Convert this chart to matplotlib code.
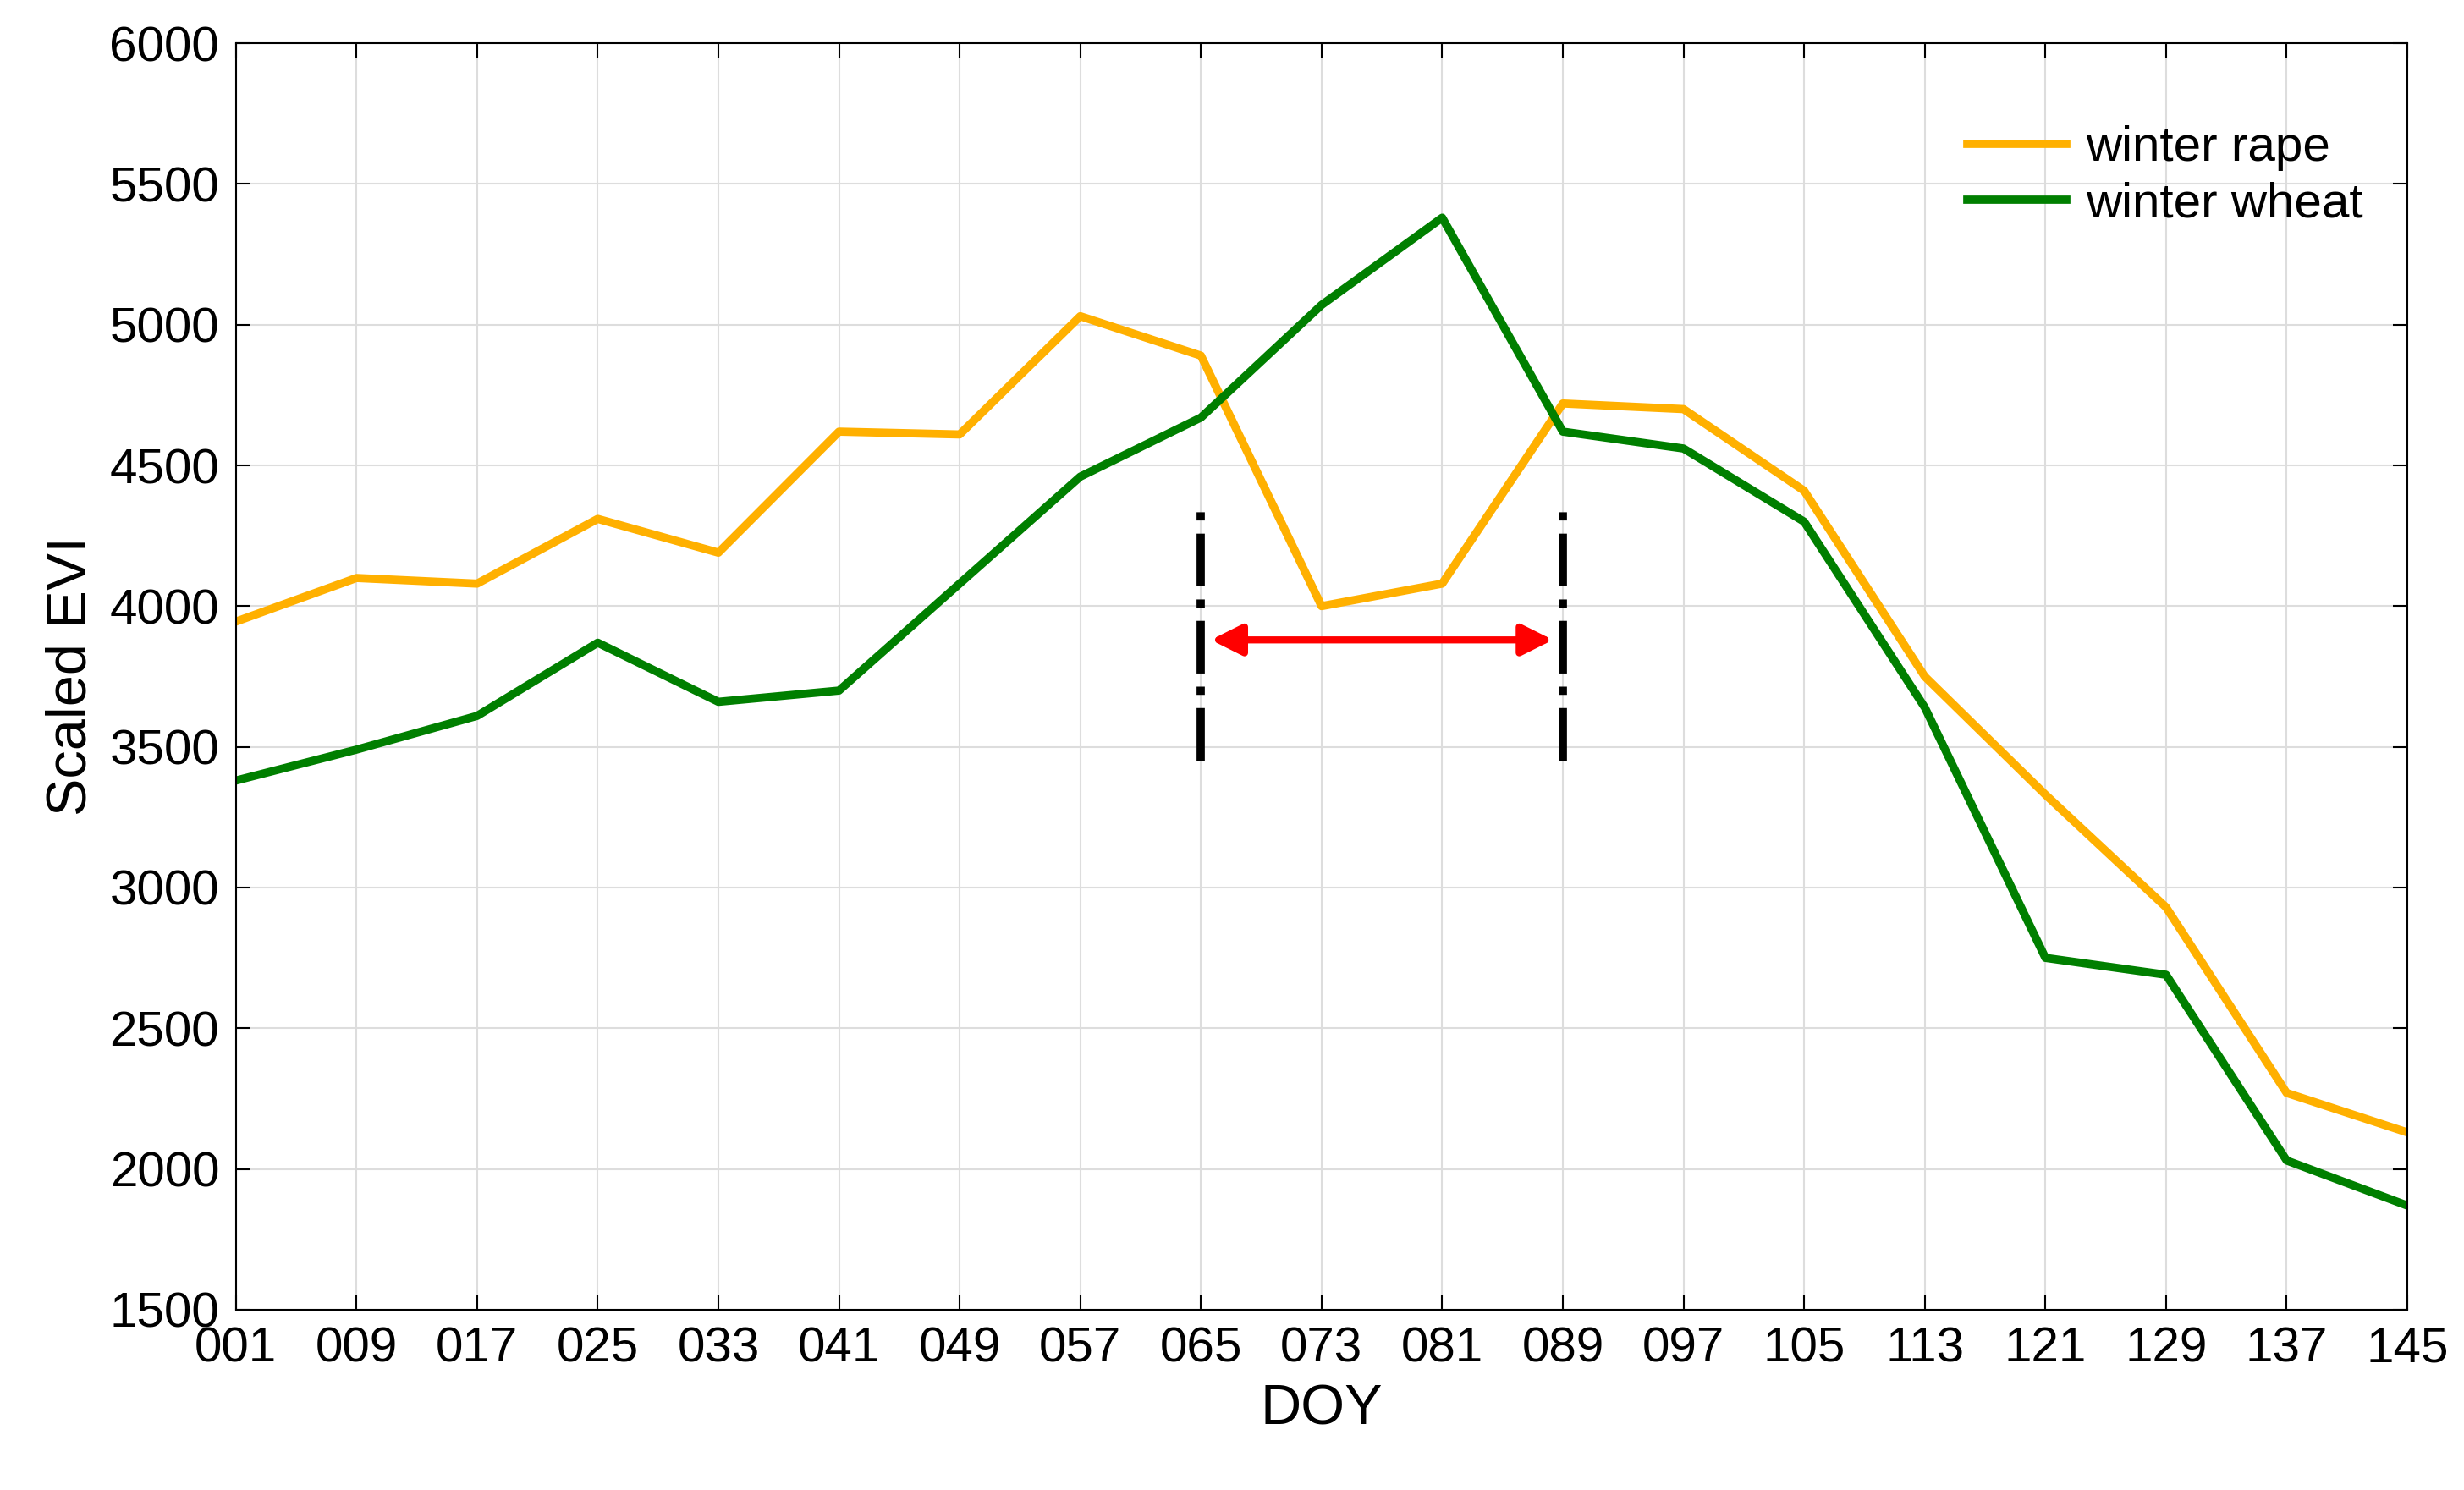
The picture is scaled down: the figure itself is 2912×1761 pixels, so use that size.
import matplotlib
matplotlib.use('Agg')
import matplotlib.pyplot as plt

plt.rcParams['font.family'] = ['Liberation Sans', 'DejaVu Sans']

doy = [1, 9, 17, 25, 33, 41, 49, 57, 65, 73, 81, 89, 97, 105, 113, 121, 129, 137, 145]
doy_labels = ['%03d' % d for d in doy]
rape = [3945, 4100, 4080, 4310, 4190, 4620, 4610, 5030, 4890, 4000, 4080, 4720, 4700,
        4410, 3750, 3330, 2930, 2270, 2130]
wheat = [3380, 3490, 3610, 3870, 3660, 3700, 4080, 4460, 4670, 5070, 5380, 4620, 4560,
         4300, 3640, 2750, 2690, 2030, 1870]
period = [65, 89]

fig = plt.figure(figsize=(29.12, 17.61), dpi=100)
ax = fig.add_axes([0.0957, 0.121, 0.8813, 0.850])

ax.plot(doy, rape, color='#FFB000', lw=7, label='winter rape')
ax.plot(doy, wheat, color='#007F00', lw=7, label='winter wheat')

for p in period:
    ax.plot([p, p], [3450, 4380], color='black', lw=7, ls='-.')
ax.annotate('', xy=(period[1] - 0.5, 3880), xytext=(period[0] + 0.5, 3880),
            arrowprops=dict(arrowstyle='<|-|>', color='red', lw=6, mutation_scale=55))

ax.set_xlim(1, 145)
ax.set_ylim(1500, 6000)
ax.set_xticks(doy)
ax.set_xticklabels(doy_labels)
ax.set_yticks(range(1500, 6001, 500))
ax.tick_params(labelsize=42, length=12, direction='in', top=True, right=True, width=1.5,
               pad=14)
ax.grid(True, color='#dddddd', lw=1.5)
for s in ax.spines.values():
    s.set_linewidth(1.5)
ax.set_xlabel('DOY', fontsize=48, labelpad=10)
ax.set_ylabel('Scaled EVI', fontsize=48, labelpad=10)
ax.legend(loc='upper right', fontsize=42, frameon=False, handlelength=2.0,
          handletextpad=0.4, labelspacing=0.2, bbox_to_anchor=(1.0, 0.97))

fig.savefig('out.png', dpi=100)
